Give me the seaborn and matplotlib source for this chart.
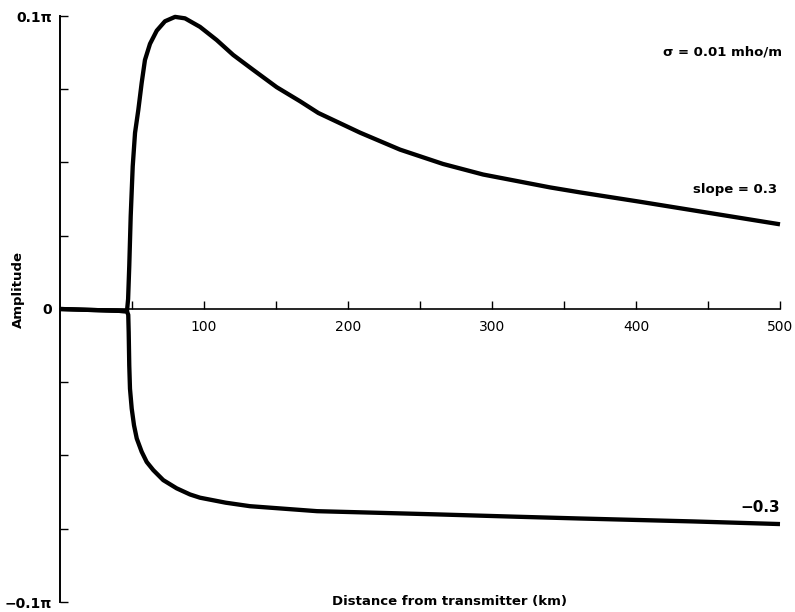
import numpy as np
import pandas as pd
import matplotlib
matplotlib.use("Agg")
import matplotlib.pyplot as plt
import seaborn as sns

# Distance from transmitter (km)
upper_x = [0, 20, 40, 46.5, 47.3, 48.1, 49.1, 50.5, 52.1, 54.4, 56.7, 59.0, 62.5, 67.2,
           72.9, 79.9, 86.8, 97.2, 108.8, 120.3, 134.2, 150.5, 166.7, 179.4, 208.3,
           236.1, 266.0, 293.8, 340.3, 361.1, 402.8, 444.4, 472.2, 500]
# Amplitude in units of pi
upper_y = [0.0, -0.0003, -0.0006, -0.0008, 0.0034, 0.0147, 0.0317, 0.0487, 0.0601,
           0.0680, 0.0771, 0.0850, 0.0905, 0.0950, 0.0982, 0.0997, 0.0992, 0.0963,
           0.0918, 0.0867, 0.0816, 0.0757, 0.0709, 0.0669, 0.0602, 0.0544, 0.0495,
           0.0459, 0.0415, 0.0398, 0.0366, 0.0333, 0.0311, 0.0289]

lower_x = [0, 20, 40, 46.5, 47.4, 47.7, 48.1, 48.6, 49.8, 51.4, 53.3, 56.7, 60.2, 64.8,
           71.7, 81.0, 90.3, 97.2, 115.0, 131.9, 178.5, 224.3, 261.8, 317.4, 361.1,
           439.6, 500]
lower_y = [0.0, -0.0003, -0.0006, -0.0008, -0.0020, -0.0079, -0.0193, -0.0272, -0.0340,
           -0.0397, -0.0442, -0.0487, -0.0522, -0.0550, -0.0584, -0.0612, -0.0633,
           -0.0644, -0.0661, -0.0673, -0.0690, -0.0696, -0.0701, -0.0709, -0.0715,
           -0.0725, -0.0734]

series_names = ["slope = 0.3", "-0.3"]

x_ticks = [50, 100, 150, 200, 250, 300, 350, 400, 450, 500]
x_tick_labels = ["", "100", "", "200", "", "300", "", "400", "", "500"]
y_ticks = [-0.1, -0.075, -0.05, -0.025, 0.0, 0.025, 0.05, 0.075, 0.1]
y_tick_labels = ["\u22120.1\u03c0", "", "", "", "0", "", "", "", "0.1\u03c0"]

df = pd.concat([
    pd.DataFrame({"x": upper_x, "y": upper_y, "s": series_names[0]}),
    pd.DataFrame({"x": lower_x, "y": lower_y, "s": series_names[1]}),
])

sns.set_theme(style="white")
plt.rcParams["font.family"] = ["DejaVu Sans"]
plt.rcParams["text.color"] = "black"
plt.rcParams["xtick.color"] = "black"
plt.rcParams["ytick.color"] = "black"
plt.rcParams["axes.labelcolor"] = "black"

fig = plt.figure(figsize=(7.95, 6.12), dpi=100)
ax = fig.add_axes([60 / 795, 1 - 602 / 612, 720 / 795, 586 / 612])

sns.lineplot(data=df, x="x", y="y", hue="s", palette=["black", "black"],
             estimator=None, sort=False, linewidth=3.1, legend=False, ax=ax)
for line in ax.lines:
    line.set_clip_on(False)
    line.set_solid_capstyle("butt")
    line.set_solid_joinstyle("round")

ax.set_xlim(0, 500)
ax.set_ylim(-0.1, 0.1)

ax.spines["right"].set_visible(False)
ax.spines["top"].set_visible(False)
ax.spines["bottom"].set_position(("data", 0))
ax.spines["bottom"].set_linewidth(1.2)
ax.spines["left"].set_linewidth(1.4)
ax.spines["bottom"].set_color("black")
ax.spines["left"].set_color("black")

ax.set_xticks(x_ticks)
ax.set_xticklabels(x_tick_labels)
ax.set_yticks(y_ticks)
ax.set_yticklabels(y_tick_labels)
ax.tick_params(axis="x", direction="in", length=6, width=1.0, color="black",
               labelcolor="black", labelsize=10, pad=8, bottom=True)
ax.tick_params(axis="y", direction="in", length=6, width=1.0, color="black",
               labelcolor="black", labelsize=10, pad=6, left=True)
for lbl in ax.get_yticklabels():
    lbl.set_fontweight("bold")

ax.set_xlabel("")
ax.set_ylabel("")

fig.text(450 / 795, 1 - 602 / 612, "Distance from transmitter (km)", ha="center",
         va="center", fontsize=9.5, fontweight="bold", color="black")
fig.text(18 / 795, 1 - 290 / 612, "Amplitude", ha="center", va="center",
         rotation=90, fontsize=9.5, fontweight="bold", color="black")

fig.text(782 / 795, 1 - 52 / 612, "\u03c3 = 0.01 mho/m", ha="right", va="center",
         fontsize=9.5, fontweight="bold", color="black")
fig.text(777 / 795, 1 - 189 / 612, series_names[0], ha="right", va="center",
         fontsize=9.5, fontweight="bold", color="black")
fig.text(780 / 795, 1 - 507 / 612, "\u22120.3", ha="right", va="center",
         fontsize=11, fontweight="bold", color="black")

fig.savefig("out.png", dpi=100)
